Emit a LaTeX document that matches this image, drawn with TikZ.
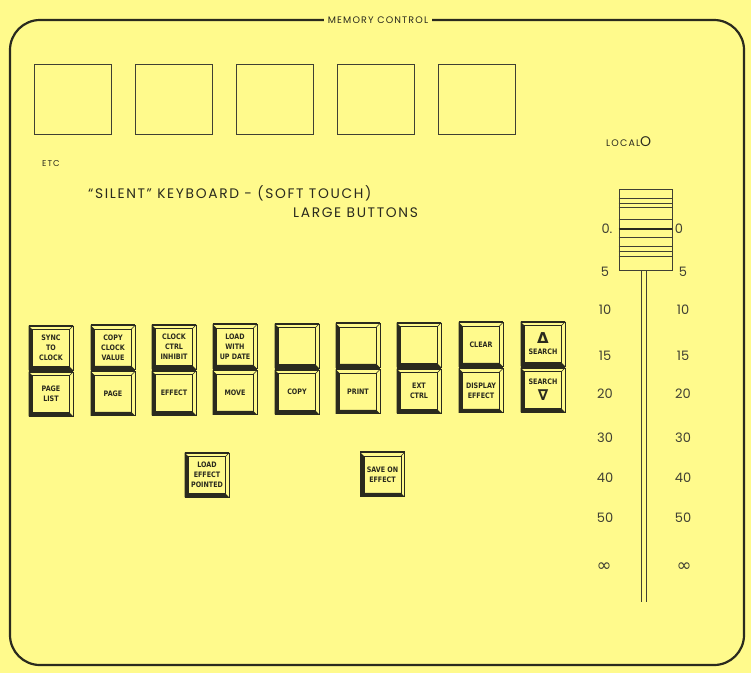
\documentclass[tikz,border=0pt]{standalone}
\usepackage{fontspec}
\setmainfont{Poppins}
\newfontfamily\keyfont[FakeStretch=0.85]{DejaVu Sans Bold}
\newfontfamily\symf{DejaVu Sans}
\newfontfamily\widefont[LetterSpace=12]{Poppins}
\definecolor{bg}{HTML}{FFFA8C}
\definecolor{ink}{HTML}{2A2A1E}
\definecolor{gink}{HTML}{404033}
\tikzset{
  frame/.style={draw=ink, line width=2.2pt, rounded corners=30pt},
  screen/.style={draw=gink, line width=0.8pt, minimum width=77pt, minimum height=70pt, inner sep=0pt},
  keyc/.style={draw=ink, line width=0.6pt, minimum width=44pt, minimum height=44pt, inner sep=0pt,
    align=center, text=ink, font=\keyfont\fontsize{7.5}{10}\selectfont},
  lbl/.style={text=ink, inner sep=0pt},
  scalelbl/.style={text=gink, inner sep=0pt, font=\fontsize{13}{13}\selectfont},
  knobbox/.style={draw=gink, line width=0.8pt, fill=bg, minimum width=53pt, minimum height=81pt, inner sep=0pt},
  knobline/.style={draw=gink, line width=0.6pt},
}
\newcommand\keycap[4]{%
  \node[keyc] (#1) at (#2,#3) {#4};
  \fill[ink] (#1.north west) -- ([shift={(4pt,-4pt)}]#1.north west) -- ([shift={(4pt,4pt)}]#1.south west)
    -- ([shift={(-4pt,4pt)}]#1.south east) -- (#1.south east) -- (#1.south west) -- cycle;
  \draw[ink, line width=0.5pt] ([shift={(4pt,-4pt)}]#1.north west) rectangle ([shift={(-4pt,4pt)}]#1.south east);
  \draw[ink, line width=0.5pt] (#1.north east) -- ([shift={(-4pt,-4pt)}]#1.north east);
  \draw[ink, line width=1.6pt] (#1.north west) -- (#1.north east);
}
\begin{document}
\begin{tikzpicture}[x=1pt,y=-1pt]
\useasboundingbox (0,0) rectangle (751,673);
\fill[bg] (0,0) rectangle (751,673);
% frame
\draw[frame] (10,20) rectangle (744,665);
\node[lbl, fill=bg, inner xsep=4pt, font=\widefont\fontsize{9.5}{10}\selectfont] (title) at (378,20) {MEMORY CONTROL};
% display squares
\node[screen] (s1) at (73,99) {};
\node[screen] (s2) at (174,99) {};
\node[screen] (s3) at (275,99) {};
\node[screen] (s4) at (376,99) {};
\node[screen] (s5) at (476.5,99) {};
\node[lbl, anchor=west, font=\widefont\fontsize{8.5}{8.5}\selectfont] (etc) at (42,164) {ETC};
\node[lbl, anchor=west, font=\widefont\fontsize{13.8}{13.8}\selectfont] (silent) at (88,193) {“SILENT” KEYBOARD - (SOFT TOUCH)};
\node[lbl, anchor=west, font=\widefont\fontsize{13.8}{13.8}\selectfont] (large) at (293,213) {LARGE BUTTONS};
% keys
\keycap{k1a}{51}{348}{SYNC\\TO\\CLOCK}
\keycap{k1b}{51}{394}{PAGE\\LIST}
\keycap{k2a}{113}{347.5}{COPY\\CLOCK\\VALUE}
\keycap{k2b}{113}{393.5}{PAGE}
\keycap{k3a}{174}{347}{CLOCK\\CTRL\\INHIBIT}
\keycap{k3b}{174}{393}{EFFECT}
\keycap{k4a}{235}{346.5}{LOAD\\WITH\\UP DATE}
\keycap{k4b}{235}{392.5}{MOVE}
\keycap{k5a}{297}{346}{}
\keycap{k5b}{297}{392}{COPY}
\keycap{k6a}{358}{345.5}{}
\keycap{k6b}{358}{391.5}{PRINT}
\keycap{k7a}{419}{345}{}
\keycap{k7b}{419}{391}{EXT\\CTRL}
\keycap{k8a}{481}{344.5}{CLEAR}
\keycap{k8b}{481}{390.5}{DISPLAY\\EFFECT}
\keycap{k9a}{543}{344}{{\symf\bfseries\fontsize{15}{15}\selectfont Δ}\\[1pt]SEARCH}
\keycap{k9b}{543}{390}{SEARCH\\[4pt]{\symf\bfseries\fontsize{15}{15}\selectfont ∇}}
\keycap{k10}{207}{475}{LOAD\\EFFECT\\POINTED}
\keycap{k11}{382.5}{474.5}{SAVE ON\\EFFECT}
% fader
\node[lbl, anchor=base west, font=\widefont\fontsize{9.5}{9.5}\selectfont] (local) at (606,146) {LOCAL{\fontsize{14}{14}\selectfont O}};
\draw[gink, line width=0.6pt] (641,270) -- (641,602);
\draw[gink, line width=0.6pt] (646,270) -- (646,602);
\node[knobbox] (knob) at (645.5,229.5) {};
\foreach \yy in {198,203,207,219,237,246,251,256}
  \draw[knobline] (knob.west |- 0,\yy) -- (knob.east |- 0,\yy);
\draw[ink, line width=2.4pt] (knob.west |- 0,229) -- (knob.east |- 0,229);
% scale
\node[scalelbl] (l0) at (607,229) {0.};
\node[scalelbl] (r0) at (679,229) {0};
\foreach \v/\yy [count=\i] in {5/272,10/310,15/356,20/394,30/438,40/478,50/518}{
  \node[scalelbl] (l\i) at (605,\yy) {\v};
  \node[scalelbl] (r\i) at (683,\yy) {\v};
}
\node[scalelbl, font=\symf\fontsize{18}{18}\selectfont] (linf) at (604,567) {∞};
\node[scalelbl, font=\symf\fontsize{18}{18}\selectfont] (rinf) at (684,567) {∞};
\end{tikzpicture}
\end{document}
